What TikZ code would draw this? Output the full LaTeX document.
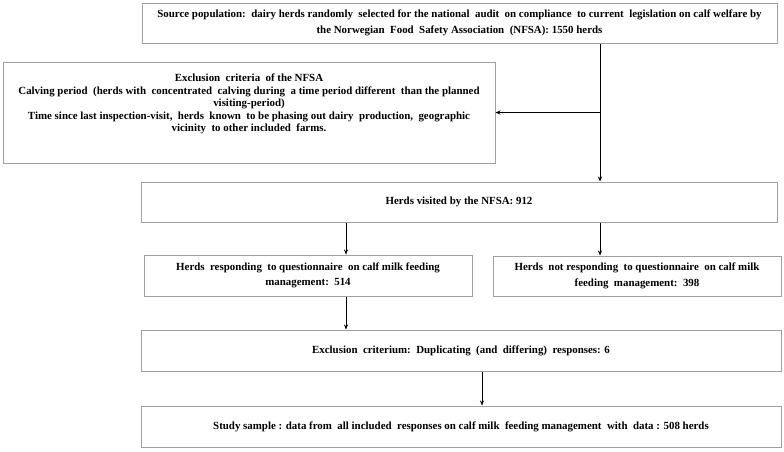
\documentclass[tikz,border=0pt]{standalone}
\usepackage{fontspec}
\setmainfont{Liberation Serif}
\usetikzlibrary{arrows.meta}
\definecolor{boxgray}{RGB}{160,160,160}
\begin{document}
\begin{tikzpicture}[x=1pt,y=-1pt,
  box/.style={draw=boxgray,line width=1pt,rectangle,inner sep=0pt,align=center,
    font=\fontsize{10.9}{12.5}\selectfont\bfseries},
  txt/.style={inner sep=0pt,align=center,font=\fontsize{10.9}{12.5}\selectfont\bfseries},
  arr/.style={-{Stealth[length=5pt,width=4pt]},line width=0.6pt,black}]
\useasboundingbox (0,0) rectangle (784,451);
\fill[white] (0,0) rectangle (784,451);

\node[box,minimum width=635pt,minimum height=40pt] (b1) at (459.5,23)
  {Source population:\ \ dairy herds randomly\ \ selected for the national\ \ audit\ \ on compliance\ \ to current\ \ legislation on calf welfare by\\[4pt]
   the Norwegian\ \ Food\ \ Safety Association\ \ (NFSA): 1550 herds};

\node[box,minimum width=492pt,minimum height=101pt] (b2) at (249,112.5) {};
\node[txt] (b2t) at (249,104)
  {Exclusion\ \ criteria\ \ of the NFSA\\
   Calving period\ \ (herds with\ \ concentrated\ \ calving during\ \ a time period different\ \ than the planned\\
   visiting-period)\\
   Time since last inspection-visit,\ \ herds\ \ known\ \ to be phasing out dairy\ \ production,\ \ geographic\\
   vicinity\ \ to other included\ \ farms.};

\node[box,minimum width=636pt,minimum height=40pt] (b3) at (459,202)
  {Herds visited by the NFSA: 912};

\node[box,minimum width=328pt,minimum height=41pt] (b4) at (308,275.5)
  {Herds\ \ responding\ \ to questionnaire\ \ on calf milk feeding\\[3pt]
   management:\ \ 514};

\node[box,minimum width=288pt,minimum height=40pt] (b5) at (637,276)
  {Herds\ \ not responding\ \ to questionnaire\ \ on calf milk\\[3pt]
   feeding\ \ management:\ \ 398};

\node[box,minimum width=640pt,minimum height=41pt] (b6) at (461,350.5)
  {Exclusion\ \ criterium:\ \ Duplicating\ \ (and\ \ differing)\ \ responses: 6};

\node[box,minimum width=640pt,minimum height=41pt] (b7) at (461,426.5)
  {Study sample : data from\ \ all included\ \ responses on calf milk\ \ feeding management\ \ with\ \ data : 508 herds};

\coordinate (mx) at (600,0);
\coordinate (lx) at (346,0);
\coordinate (cx) at (482,0);

\draw[arr] (b1.south -| mx) -- (b3.north -| mx);
\draw[arr] (b2.east -| mx) -- (b2.east);
\draw[arr] (b3.south -| lx) -- (b4.north -| lx);
\draw[arr] (b3.south -| mx) -- (b5.north -| mx);
\draw[arr] (b4.south -| lx) -- (b6.north -| lx);
\draw[arr] (b6.south -| cx) -- (b7.north -| cx);
\end{tikzpicture}
\end{document}
